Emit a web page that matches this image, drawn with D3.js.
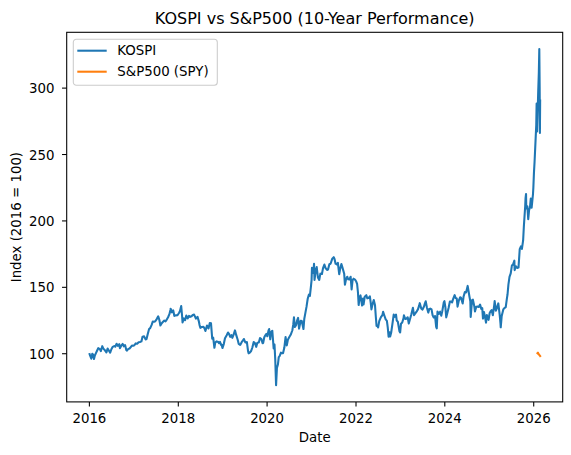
<!DOCTYPE html>
<html>
<head>
<meta charset="utf-8">
<script src="https://cdn.jsdelivr.net/npm/d3@7"></script>
<style>
  body { margin: 0; background: #fff; }
  text { font-family: "DejaVu Sans", sans-serif; fill: #000; }
</style>
</head>
<body>
<div id="plot"></div>
<script>
// KOSPI vs S&P500, both rebased to 100

const FRAME_WIDTH = 571;
const FRAME_HEIGHT = 455;
const MARGIN = { left: 66.7, top: 32.3, width: 496, height: 369.6 };

const COLOR_KOSPI = "#1f77b4";
const COLOR_SPY = "#ff7f0e";

// KOSPI index level (2016 = 100)
const kospiDates = [
  "2016-01-04","2016-01-12","2016-01-21","2016-01-29","2016-02-05","2016-02-12","2016-02-19","2016-02-29",
  "2016-03-08","2016-03-18","2016-03-31","2016-04-08","2016-04-20","2016-04-29","2016-05-12","2016-05-24",
  "2016-06-03","2016-06-13","2016-06-24","2016-07-04","2016-07-15","2016-07-27","2016-08-05","2016-08-16",
  "2016-08-26","2016-09-07","2016-09-12","2016-09-23","2016-10-05","2016-10-14","2016-10-25","2016-11-04",
  "2016-11-09","2016-11-18","2016-11-30","2016-12-09","2016-12-20","2016-12-29",
  "2017-01-09","2017-01-20","2017-02-01","2017-02-13","2017-02-24","2017-03-08","2017-03-17","2017-03-30",
  "2017-04-11","2017-04-19","2017-04-28","2017-05-10","2017-05-19","2017-05-31","2017-06-09","2017-06-20",
  "2017-06-30","2017-07-13","2017-07-24","2017-08-02","2017-08-11","2017-08-22","2017-08-31","2017-09-12",
  "2017-09-22","2017-09-29","2017-10-13","2017-10-24","2017-11-02","2017-11-03","2017-11-14","2017-11-24",
  "2017-12-04","2017-12-15","2017-12-28",
  "2018-01-05","2018-01-12","2018-01-19","2018-01-29","2018-02-05","2018-02-09","2018-02-20","2018-03-02",
  "2018-03-12","2018-03-23","2018-04-03","2018-04-13","2018-04-24","2018-05-04","2018-05-15","2018-05-30",
  "2018-06-12","2018-06-22","2018-06-29","2018-07-06","2018-07-17","2018-07-31","2018-08-10","2018-08-16",
  "2018-08-29","2018-09-11","2018-09-21","2018-10-01","2018-10-11","2018-10-19","2018-10-29","2018-11-05",
  "2018-11-16","2018-11-27","2018-12-07","2018-12-14","2018-12-24","2018-12-28",
  "2019-01-03","2019-01-14","2019-01-24","2019-02-07","2019-02-18","2019-02-26","2019-03-08","2019-03-19",
  "2019-03-25","2019-04-05","2019-04-16","2019-04-26","2019-05-09","2019-05-17","2019-05-29","2019-06-10",
  "2019-06-21","2019-06-28","2019-07-10","2019-07-23","2019-08-02","2019-08-06","2019-08-16","2019-08-27",
  "2019-09-06","2019-09-17","2019-09-27","2019-10-08","2019-10-17","2019-10-29","2019-11-08","2019-11-19",
  "2019-11-29","2019-12-04","2019-12-13","2019-12-23","2019-12-30",
  "2020-01-07","2020-01-17","2020-01-22","2020-01-31","2020-02-07","2020-02-17","2020-02-28","2020-03-06",
  "2020-03-12","2020-03-19","2020-03-26","2020-04-03","2020-04-10","2020-04-17","2020-04-28","2020-05-06",
  "2020-05-15","2020-05-26","2020-06-05","2020-06-15","2020-06-24","2020-07-06","2020-07-17","2020-07-31",
  "2020-08-07","2020-08-13","2020-08-21","2020-08-31","2020-09-08","2020-09-16","2020-09-24","2020-10-07",
  "2020-10-16","2020-10-30","2020-11-06","2020-11-13","2020-11-24","2020-12-04","2020-12-14","2020-12-22",
  "2020-12-30",
  "2021-01-05","2021-01-08","2021-01-14","2021-01-19","2021-01-25","2021-01-29","2021-02-08","2021-02-16",
  "2021-02-26","2021-03-09","2021-03-18","2021-03-31","2021-04-09","2021-04-20","2021-04-30","2021-05-12",
  "2021-05-20","2021-05-31","2021-06-10","2021-06-24","2021-07-06","2021-07-13","2021-07-21","2021-07-30",
  "2021-08-09","2021-08-20","2021-08-27","2021-09-07","2021-09-17","2021-09-30","2021-10-06","2021-10-15",
  "2021-10-25","2021-11-02","2021-11-12","2021-11-22","2021-11-30","2021-12-08","2021-12-17","2021-12-30",
  "2022-01-07","2022-01-14","2022-01-21","2022-01-27","2022-02-04","2022-02-11","2022-02-24","2022-03-04",
  "2022-03-08","2022-03-18","2022-03-31","2022-04-08","2022-04-21","2022-04-29","2022-05-06","2022-05-12",
  "2022-05-20","2022-05-31","2022-06-10","2022-06-17","2022-06-23","2022-07-01","2022-07-06","2022-07-15",
  "2022-07-29","2022-08-10","2022-08-16","2022-08-26","2022-09-06","2022-09-16","2022-09-23","2022-09-30",
  "2022-10-07","2022-10-13","2022-10-21","2022-10-31","2022-11-11","2022-11-18","2022-11-30","2022-12-06",
  "2022-12-15","2022-12-28",
  "2023-01-03","2023-01-10","2023-01-20","2023-01-31","2023-02-03","2023-02-14","2023-02-24","2023-03-06",
  "2023-03-15","2023-03-24","2023-04-04","2023-04-18","2023-04-27","2023-05-09","2023-05-18","2023-05-30",
  "2023-06-08","2023-06-13","2023-06-26","2023-07-06","2023-07-18","2023-07-25","2023-08-01","2023-08-11",
  "2023-08-22","2023-08-31","2023-09-08","2023-09-18","2023-09-27","2023-10-06","2023-10-17","2023-10-26",
  "2023-10-31","2023-11-06","2023-11-17","2023-11-28","2023-12-07","2023-12-15","2023-12-28",
  "2024-01-02","2024-01-10","2024-01-17","2024-01-26","2024-02-05","2024-02-16","2024-02-23","2024-03-05",
  "2024-03-14","2024-03-26","2024-04-03","2024-04-12","2024-04-19","2024-04-30","2024-05-10","2024-05-17",
  "2024-05-31","2024-06-07","2024-06-18","2024-06-28","2024-07-11","2024-07-19","2024-07-26","2024-08-02",
  "2024-08-05","2024-08-16","2024-08-23","2024-09-04","2024-09-09","2024-09-20","2024-09-30","2024-10-10",
  "2024-10-21","2024-10-31","2024-11-08","2024-11-14","2024-11-22","2024-11-29","2024-12-09","2024-12-16",
  "2024-12-30",
  "2025-01-08","2025-01-17","2025-01-24","2025-02-03","2025-02-14","2025-02-18","2025-02-28","2025-03-07",
  "2025-03-20","2025-03-31","2025-04-07","2025-04-09","2025-04-17","2025-04-30","2025-05-09","2025-05-20",
  "2025-05-30","2025-06-04","2025-06-11","2025-06-20","2025-06-30","2025-07-10","2025-07-18","2025-07-30",
  "2025-08-01","2025-08-12","2025-08-22","2025-09-02","2025-09-12","2025-09-22","2025-09-30","2025-10-10",
  "2025-10-16","2025-10-27","2025-10-30","2025-11-03","2025-11-05","2025-11-14","2025-11-21","2025-11-28",
  "2025-12-05","2025-12-12","2025-12-19","2025-12-30",
  "2026-01-02","2026-01-07","2026-01-12","2026-01-16","2026-01-21","2026-01-26","2026-01-29","2026-02-02",
  "2026-02-06","2026-02-11","2026-02-16","2026-02-20","2026-02-23","2026-02-25","2026-02-27"
];
const kospiValues = [
  100.0, 98.0, 95.9, 99.6, 98.9, 95.7, 98.3, 100.3,
  101.9, 103.8, 103.1, 101.6, 105.3, 103.5, 102.2, 100.6,
  103.5, 102.0, 100.4, 103.0, 104.8, 105.4, 104.9, 107.1,
  105.6, 106.8, 103.8, 105.7, 107.0, 105.2, 106.1, 102.3,
  102.0, 103.1, 103.6, 104.5, 105.7, 105.6,
  106.0, 107.4, 107.1, 108.2, 108.4, 108.9, 112.4, 112.7,
  110.4, 110.7, 114.1, 118.2, 118.9, 121.3, 123.8, 123.7,
  124.1, 125.9, 127.8, 125.2, 120.9, 122.6, 123.5, 124.6,
  124.0, 124.9, 127.1, 129.4, 132.8, 133.5, 130.8, 132.3,
  128.1, 128.5, 128.6,
  129.5, 130.5, 131.8, 135.5, 128.4, 123.2, 126.2, 124.9,
  128.4, 126.2, 128.1, 127.4, 127.8, 128.8, 129.1, 126.1,
  127.4, 124.4, 121.2, 119.1, 119.8, 119.9, 118.4, 116.8,
  120.8, 118.7, 122.8, 122.5, 111.0, 111.7, 104.1, 108.1,
  108.9, 108.7, 107.5, 108.5, 106.0, 106.4,
  103.9, 106.9, 111.3, 113.6, 115.6, 114.6, 112.3, 113.6,
  111.6, 114.0, 117.2, 113.8, 110.0, 107.0, 106.2, 108.3,
  109.6, 110.7, 108.1, 108.4, 101.4, 99.9, 100.5, 101.7,
  104.3, 108.4, 107.6, 104.8, 107.9, 108.1, 111.5, 110.7,
  107.5, 107.8, 112.0, 113.7, 114.5,
  112.8, 117.1, 118.2, 110.5, 115.9, 116.9, 103.6, 106.5,
  95.6, 76.0, 88.9, 91.5, 97.1, 97.8, 100.4, 100.0,
  100.0, 104.3, 112.2, 105.9, 110.2, 112.2, 113.9, 117.3,
  121.5, 127.1, 119.7, 121.3, 124.7, 126.6, 118.5, 124.5,
  124.2, 118.2, 126.0, 129.4, 134.9, 141.0, 144.1, 143.2,
  149.8,
  155.3, 164.4, 163.8, 160.4, 167.3, 155.2, 162.5, 164.9,
  157.1, 155.2, 159.9, 159.7, 164.1, 166.8, 164.1, 162.7,
  163.0, 167.0, 167.4, 171.2, 172.3, 170.8, 167.4, 166.9,
  168.1, 159.5, 163.2, 167.1, 164.1, 159.9, 151.6, 155.7,
  157.6, 155.7, 155.5, 157.6, 148.0, 155.0, 156.1, 155.2,
  154.0, 152.3, 145.9, 136.3, 142.2, 143.5, 135.9, 141.2,
  136.7, 142.5, 143.7, 141.3, 141.8, 142.8, 138.1, 133.0,
  136.5, 140.0, 136.4, 127.5, 120.6, 120.2, 119.5, 124.2,
  127.2, 128.7, 131.2, 128.4, 125.5, 124.4, 119.5, 112.4,
  115.7, 112.7, 115.4, 121.7, 129.1, 127.4, 129.1, 124.6,
  123.7, 116.6,
  115.7, 122.2, 123.1, 126.4, 128.5, 125.8, 126.0, 127.1,
  122.4, 125.4, 129.0, 134.2, 128.7, 130.2, 131.3, 133.2,
  135.8, 137.7, 133.5, 132.9, 135.2, 137.4, 139.1, 134.4,
  130.6, 133.3, 133.6, 133.0, 128.5, 126.9, 128.0, 119.8,
  118.7, 131.4, 129.6, 131.3, 128.2, 131.5, 138.4,
  139.2, 134.5, 127.0, 130.3, 134.0, 138.9, 139.0, 138.3,
  140.9, 143.7, 141.6, 141.3, 135.1, 139.8, 142.1, 141.8,
  137.4, 142.5, 146.0, 145.8, 150.7, 146.3, 142.5, 139.1,
  127.3, 140.0, 140.3, 135.2, 131.5, 135.0, 135.2, 134.8,
  136.6, 133.4, 134.0, 126.1, 131.1, 128.0, 123.0, 128.8,
  125.1,
  130.3, 131.7, 132.5, 128.6, 135.9, 139.3, 132.0, 133.6,
  137.5, 129.2, 122.2, 119.5, 128.1, 133.0, 134.0, 134.7,
  141.5, 144.4, 151.6, 157.5, 160.1, 166.2, 166.6, 169.7,
  162.6, 165.5, 164.2, 164.5, 178.3, 180.4, 178.5, 184.9,
  195.4, 210.7, 216.8, 219.9, 209.0, 210.6, 200.9, 207.8,
  209.7, 216.4, 209.6, 219.7,
  224.5, 236.0, 244.0, 252.0, 262.0, 272.0, 288.0, 267.0,
  280.0, 297.0, 311.0, 329.0, 300.0, 265.8, 291.0
];

// S&P500 (SPY) only has a few weeks at the end
const spyDates = ["2026-02-05","2026-02-09","2026-02-12","2026-02-17","2026-02-20","2026-02-24","2026-02-27"];
const spyValues = [100.0, 100.4, 99.6, 99.1, 98.7, 98.3, 97.9];

const yTicks = [100, 150, 200, 250, 300];
const xTickYears = [2016, 2018, 2020, 2022, 2024, 2026];

const parseDate = d3.timeParse("%Y-%m-%d");
const kospi = kospiDates.map((d, i) => ({ date: parseDate(d), value: kospiValues[i] }));
const spy = spyDates.map((d, i) => ({ date: parseDate(d), value: spyValues[i] }));
const allPoints = kospi.concat(spy);

// matplotlib style 5% margins
function pad(extent) {
	const span = extent[1] - extent[0];
	return [extent[0] - span * 0.05, extent[1] + span * 0.05];
}

const xExt = pad(d3.extent(allPoints, d => +d.date));
const yExt = pad(d3.extent(allPoints, d => d.value));

const X_SCALE = d3.scaleTime()
	.domain([new Date(xExt[0]), new Date(xExt[1])])
	.range([0, MARGIN.width]);

const Y_SCALE = d3.scaleLinear()
	.domain(yExt)
	.range([MARGIN.height, 0]);

const FRAME1 = d3.select("#plot")
	.append("svg")
		.attr("width", FRAME_WIDTH)
		.attr("height", FRAME_HEIGHT);

FRAME1.append("rect")
	.attr("width", FRAME_WIDTH)
	.attr("height", FRAME_HEIGHT)
	.attr("fill", "#fff");

const PLOT = FRAME1.append("g")
	.attr("transform", "translate(" + MARGIN.left + "," + MARGIN.top + ")");

// lines
const line = d3.line()
	.x(d => X_SCALE(d.date))
	.y(d => Y_SCALE(d.value));

PLOT.append("path")
	.datum(kospi)
	.attr("d", line)
	.attr("fill", "none")
	.attr("stroke", COLOR_KOSPI)
	.attr("stroke-width", 2.08)
	.attr("stroke-linejoin", "round");

PLOT.append("path")
	.datum(spy)
	.attr("d", line)
	.attr("fill", "none")
	.attr("stroke", COLOR_SPY)
	.attr("stroke-width", 2.08)
	.attr("stroke-linejoin", "round")
	.attr("stroke-linecap", "square");

// x-axis
const xAxis = PLOT.append("g")
	.attr("transform", "translate(0," + MARGIN.height + ")")
	.call(d3.axisBottom(X_SCALE)
		.tickValues(xTickYears.map(y => new Date(y, 0, 1)))
		.tickFormat(d3.timeFormat("%Y"))
		.tickSize(4.67)
		.tickPadding(7));

// y-axis
const yAxis = PLOT.append("g")
	.call(d3.axisLeft(Y_SCALE)
		.tickValues(yTicks)
		.tickSize(4.67)
		.tickPadding(7.5));

[xAxis, yAxis].forEach(ax => {
	ax.select(".domain").remove();
	ax.selectAll(".tick line").attr("stroke", "#000").attr("stroke-width", 1.07);
	ax.selectAll(".tick text")
		.attr("font-family", "DejaVu Sans")
		.attr("font-size", "13.33px")
		.attr("fill", "#000");
});
yAxis.selectAll(".tick text").attr("dy", "0.38em");

// spines
PLOT.append("rect")
	.attr("width", MARGIN.width)
	.attr("height", MARGIN.height)
	.attr("fill", "none")
	.attr("stroke", "#000")
	.attr("stroke-width", 1.07);

// title and axis labels
FRAME1.append("text")
	.attr("x", MARGIN.left + MARGIN.width / 2)
	.attr("y", 24.3)
	.attr("text-anchor", "middle")
	.attr("font-size", "16px")
	.text("KOSPI vs S&P500 (10-Year Performance)");

FRAME1.append("text")
	.attr("x", MARGIN.left + MARGIN.width / 2)
	.attr("y", 442)
	.attr("text-anchor", "middle")
	.attr("font-size", "13.33px")
	.text("Date");

FRAME1.append("text")
	.attr("transform", "translate(21," + (MARGIN.top + MARGIN.height / 2) + ") rotate(-90)")
	.attr("text-anchor", "middle")
	.attr("font-size", "13.33px")
	.text("Index (2016 = 100)");

// legend
const legendItems = [
	{ label: "KOSPI", color: COLOR_KOSPI },
	{ label: "S&P500 (SPY)", color: COLOR_SPY }
];

const LEGEND = FRAME1.append("g")
	.attr("transform", "translate(73.3,39.3)");

LEGEND.append("rect")
	.attr("width", 144)
	.attr("height", 46)
	.attr("rx", 3)
	.attr("fill", "#fff")
	.attr("fill-opacity", 0.8)
	.attr("stroke", "#cccccc")
	.attr("stroke-width", 1.07);

legendItems.forEach((item, i) => {
	const y = 11.4 + i * 21;
	LEGEND.append("line")
		.attr("x1", 4)
		.attr("x2", 33.4)
		.attr("y1", y)
		.attr("y2", y)
		.attr("stroke", item.color)
		.attr("stroke-width", 2.08);
	LEGEND.append("text")
		.attr("x", 44)
		.attr("y", y + 4.8)
		.attr("font-size", "13.33px")
		.text(item.label);
});
</script>
</body>
</html>
